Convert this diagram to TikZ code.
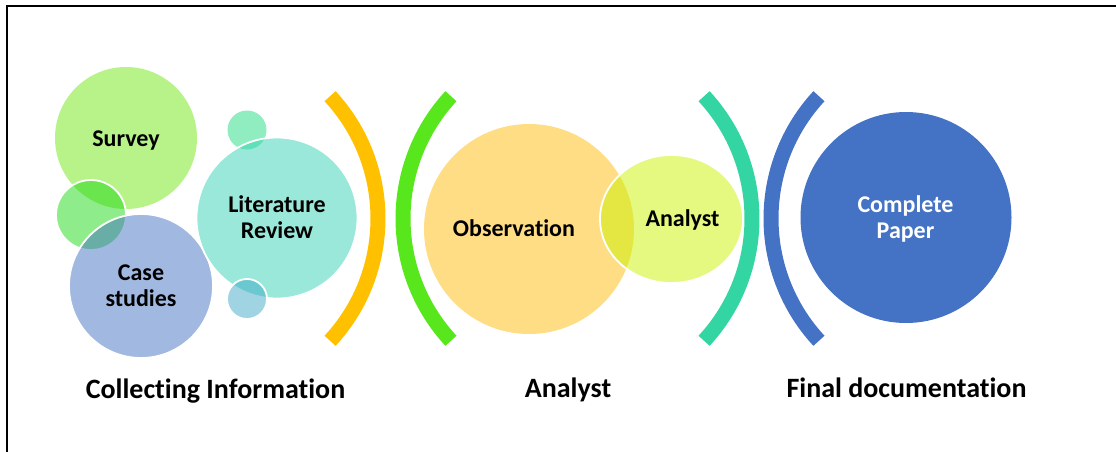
\documentclass[tikz,border=0pt]{standalone}
\usepackage{fontspec}
\usetikzlibrary{shapes.geometric}
\setmainfont{Carlito}[Ligatures=CommonOff]
\definecolor{cSurvey}{RGB}{113,231,19}
\definecolor{cSmallG}{RGB}{31,217,21}
\definecolor{cBlue}{RGB}{68,114,196}
\definecolor{cTeal}{RGB}{51,209,179}
\definecolor{cTopS}{RGB}{31,219,129}
\definecolor{cBotS}{RGB}{65,169,199}
\definecolor{cObs}{RGB}{253,187,9}
\definecolor{cAna}{RGB}{203,241,0}
\definecolor{cOrange}{RGB}{255,192,0}
\definecolor{cGreenArc}{RGB}{88,230,28}
\definecolor{cTealArc}{RGB}{51,214,162}
\tikzset{
  bub/.style={circle, fill opacity=0.5, text opacity=1, inner sep=0pt},
  wline/.style={draw=white, draw opacity=1, line width=1.8pt},
  intxt/.style={font=\bfseries\fontsize{24}{26}\selectfont, align=center, text=black, anchor=base},
  lbl/.style={font=\bfseries\fontsize{28}{32}\selectfont, text=black, anchor=base},
  paren/.style={line width=15pt, line cap=butt},
}
\begin{document}
\begin{tikzpicture}[x=1pt,y=-1pt]
\useasboundingbox (0,0) rectangle (1116,452);
% frame
\draw[line width=1.3pt] (7,452) -- (7,6) -- (1116,6);
% collecting information cluster
\node[bub, fill=cSurvey, minimum size=142pt] (survey) at (126,138) {};
\node[bub, fill=cSmallG, wline, minimum size=70pt] (sg) at (91,215) {};
\node[bub, fill=cBlue, wline, minimum size=144pt] (case) at (141,286) {};
\node[bub, fill=cTopS, minimum size=39pt] (ts) at (247,130) {};
\node[bub, fill=cTeal, wline, minimum size=161pt] (lit) at (277,218) {};
\node[bub, fill=cBotS, wline, minimum size=40pt] (bs) at (247,299) {};
\node[intxt] (tsurvey) at (126,146) {Survey};
\node[intxt] (tlit) at (277,238) {Literature\\Review};
\node[intxt] (tcase) at (141,306) {Case\\studies};
% arcs
\draw[paren, cOrange] (198,218.5) ++(-42.8:180) arc[start angle=-42.8, end angle=42.8, radius=180];
\draw[paren, cGreenArc] (583,218.5) ++(137.2:180) arc[start angle=137.2, end angle=222.8, radius=180];
\draw[paren, cTealArc] (572,218.5) ++(-42.8:180) arc[start angle=-42.8, end angle=42.8, radius=180];
\draw[paren, cBlue] (951,218.5) ++(137.2:180) arc[start angle=137.2, end angle=222.8, radius=180];
% analyst cluster
\node[bub, fill=cObs, minimum size=210pt] (obs) at (529,229) {};
\node[ellipse, fill=cAna, fill opacity=0.5, wline, minimum width=143pt, minimum height=128pt, inner sep=0pt] (ana) at (671.5,219) {};
\node[intxt] (tobs) at (514,236) {Observation};
\node[intxt] (tana) at (682.5,226) {Analyst};
% final
\node[circle, fill=cBlue, minimum size=211pt, inner sep=0pt] (paper) at (906,217.5) {};
\node[intxt, text=white] (tpaper) at (905.5,238) {Complete\\Paper};
% labels
\node[lbl] (l1) at (215.5,398) {Collecting Information};
\node[lbl] (l2) at (568,397.5) {Analyst};
\node[lbl] (l3) at (906.5,397.5) {Final documentation};
\end{tikzpicture}
\end{document}
